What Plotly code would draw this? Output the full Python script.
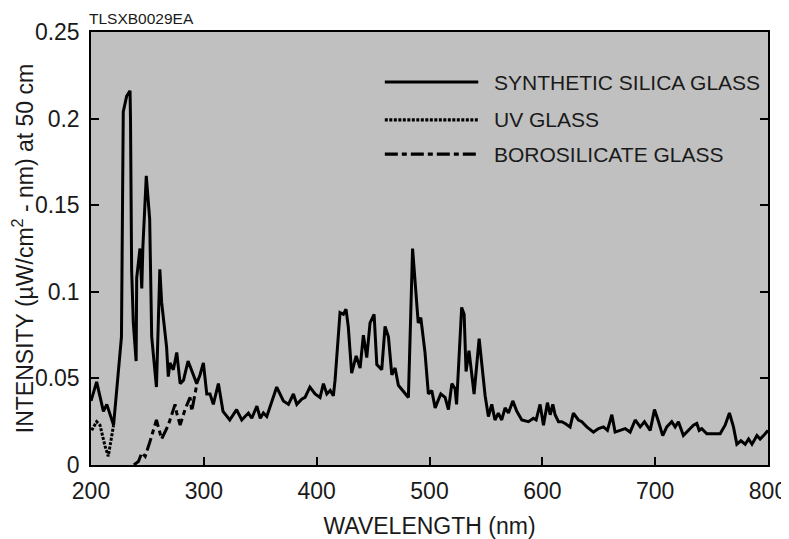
import plotly.graph_objects as go

# ---- data ----
silica_wl = [200, 205, 211, 214, 220, 224, 227, 228.6, 231.6, 234.6, 235, 236, 237.5, 240, 240.5,
             243.4, 245, 246, 249, 252, 253.8, 258, 261, 262.6, 267, 268.5, 270, 273, 276, 279,
             282, 286, 293.7, 296.6, 299.6, 302.6, 305.5, 308.4, 312.9, 317, 323, 329, 333.6,
             339.5, 342.5, 347, 350, 352.8, 355.8, 364.6, 370.5, 375, 379.4, 382.4, 386.7, 389.7,
             394, 398.6, 403, 406, 409, 412, 414.8, 416.3, 420.7, 423.7, 426, 428, 431, 435,
             438.5, 441.4, 444.4, 447.3, 450.9, 453.3, 457.7, 460.6, 463.6, 466.6, 469.5, 472.4,
             481.3, 485, 487.2, 490, 492.3, 496, 499, 502, 505, 510, 513.8, 516.8, 519.8, 522.7,
             524, 528.5, 530.7, 532.4, 535, 539.5, 544, 546.3, 549.3, 552.2, 555.2, 558, 561, 564,
             567, 570, 573.8, 577.4, 581.8, 587.7, 592, 594.5, 598, 601, 604.5, 607, 609.3, 611.3,
             614.3, 617.2, 620.2, 624.6, 627.5, 632, 635, 639.4, 645.3, 649.8, 654.2, 657.7, 661.6,
             664.5, 669, 673.4, 677.8, 682.3, 686.7, 690.5, 695.6, 699.4, 703, 706.7, 710.3, 714.7,
             717.7, 720.6, 725, 729.5, 733.9, 736.9, 739, 741.3, 745.8, 751.7, 757.6, 762, 765.8,
             769.4, 772.4, 776, 779.8, 782.8, 785.8, 790.2, 793, 797.5, 800]
silica_int = [0.037, 0.048, 0.031, 0.035, 0.023, 0.053, 0.074, 0.204, 0.213, 0.216, 0.200, 0.113,
              0.082, 0.060, 0.108, 0.125, 0.102, 0.126, 0.167, 0.142, 0.074, 0.045, 0.113, 0.094,
              0.068, 0.051, 0.059, 0.055, 0.065, 0.047, 0.049, 0.060, 0.047, 0.052, 0.059, 0.041,
              0.041, 0.035, 0.047, 0.031, 0.026, 0.032, 0.026, 0.030, 0.027, 0.034, 0.027, 0.030,
              0.028, 0.045, 0.037, 0.035, 0.041, 0.035, 0.038, 0.039, 0.045, 0.041, 0.039, 0.047,
              0.041, 0.043, 0.040, 0.049, 0.088, 0.087, 0.090, 0.080, 0.053, 0.063, 0.056, 0.075,
              0.062, 0.082, 0.087, 0.058, 0.055, 0.080, 0.074, 0.052, 0.056, 0.046, 0.039, 0.125,
              0.107, 0.082, 0.085, 0.065, 0.041, 0.043, 0.033, 0.041, 0.039, 0.032, 0.047, 0.044,
              0.035, 0.091, 0.087, 0.054, 0.066, 0.041, 0.073, 0.058, 0.040, 0.028, 0.035, 0.026,
              0.030, 0.026, 0.033, 0.030, 0.037, 0.031, 0.026, 0.025, 0.027, 0.026, 0.035, 0.023,
              0.036, 0.029, 0.035, 0.029, 0.025, 0.025, 0.024, 0.022, 0.030, 0.026, 0.025, 0.022,
              0.019, 0.021, 0.022, 0.020, 0.029, 0.019, 0.020, 0.021, 0.019, 0.026, 0.022, 0.025,
              0.020, 0.032, 0.025, 0.017, 0.022, 0.025, 0.022, 0.025, 0.017, 0.020, 0.023, 0.024,
              0.020, 0.021, 0.018, 0.018, 0.018, 0.023, 0.030, 0.022, 0.012, 0.014, 0.012, 0.015,
              0.012, 0.017, 0.015, 0.018, 0.020]

uv_wl = [200.6, 205, 208, 212.4, 215.3, 218, 220]
uv_int = [0.020, 0.025, 0.023, 0.011, 0.005, 0.015, 0.023]

boro_wl = [238, 242, 245, 248, 252, 258, 262.6, 268.5, 274.5, 276, 279, 283.3, 287.8, 289.3, 293.6]
boro_int = [0.0, 0.002, 0.007, 0.005, 0.013, 0.026, 0.015, 0.023, 0.035, 0.030, 0.023, 0.032,
            0.039, 0.031, 0.046]

series_names = ["SYNTHETIC SILICA GLASS", "UV GLASS", "BOROSILICATE GLASS"]
x_ticks = [200, 300, 400, 500, 600, 700, 800]
y_ticks = [0, 0.05, 0.1, 0.15, 0.2, 0.25]
y_tick_text = ["0", "0.05", "0.1", "0.15", "0.2", "0.25"]

FONT = "Liberation Sans, Arial, sans-serif"
dashes = ["solid", "3px,1.5px", "13px,4px,5px,4px"]

fig = go.Figure()
for wl, val, name, dash in [(boro_wl, boro_int, series_names[2], dashes[2]),
                            (uv_wl, uv_int, series_names[1], dashes[1]),
                            (silica_wl, silica_int, series_names[0], dashes[0])]:
    fig.add_trace(go.Scatter(x=wl, y=val, mode="lines", name=name, showlegend=False,
                             line=dict(color="black", width=3, dash=dash)))

# manual legend (long line samples like the reference)
legend_rows = [0.8845, 0.797, 0.718]
for name, dash, yy in zip(series_names, dashes, legend_rows):
    fig.add_shape(type="line", xref="paper", yref="paper", x0=0.434, x1=0.572, y0=yy, y1=yy,
                  line=dict(color="black", width=3.2, dash=dash))
    fig.add_annotation(text=name, xref="paper", yref="paper", x=0.592, y=yy, xanchor="left",
                       yanchor="middle", showarrow=False,
                       font=dict(family=FONT, size=21, color="#1a1a1a"))

fig.add_annotation(text="TLSXB0029EA", xref="paper", yref="paper", x=-0.006, y=1.032,
                   xanchor="left", yanchor="middle", showarrow=False,
                   font=dict(family=FONT, size=15.5, color="#1a1a1a"))

fig.update_layout(
    width=781, height=531,
    margin=dict(l=83, r=21, t=24, b=74, autoexpand=False),
    paper_bgcolor="white", plot_bgcolor="#c0c0c0",
    font=dict(family=FONT, size=23, color="#1a1a1a"),
)
fig.update_xaxes(range=[200, 800], tickvals=x_ticks, ticks="inside", ticklen=8, tickwidth=1.5,
                 tickcolor="black", showline=True, linecolor="black", linewidth=1.5, mirror=True,
                 showgrid=False, zeroline=False, tickfont=dict(size=23), ticklabelstandoff=5,
                 automargin=False,
                 title=dict(text="WAVELENGTH (nm)", font=dict(size=23), standoff=18))
fig.update_yaxes(range=[0, 0.25], tickvals=y_ticks, ticktext=y_tick_text, ticks="inside",
                 ticklen=8, tickwidth=1.5, tickcolor="black", showline=True, linecolor="black",
                 linewidth=1.5, mirror="ticks", showgrid=False, zeroline=False,
                 tickfont=dict(size=23), ticklabelstandoff=5, automargin=False,
                 title=dict(text="INTENSITY (µW/cm<sup>2</sup>\u00a0-\u00a0nm) at 50 cm",
                            font=dict(size=23), standoff=11))

fig.write_html("out.html")
